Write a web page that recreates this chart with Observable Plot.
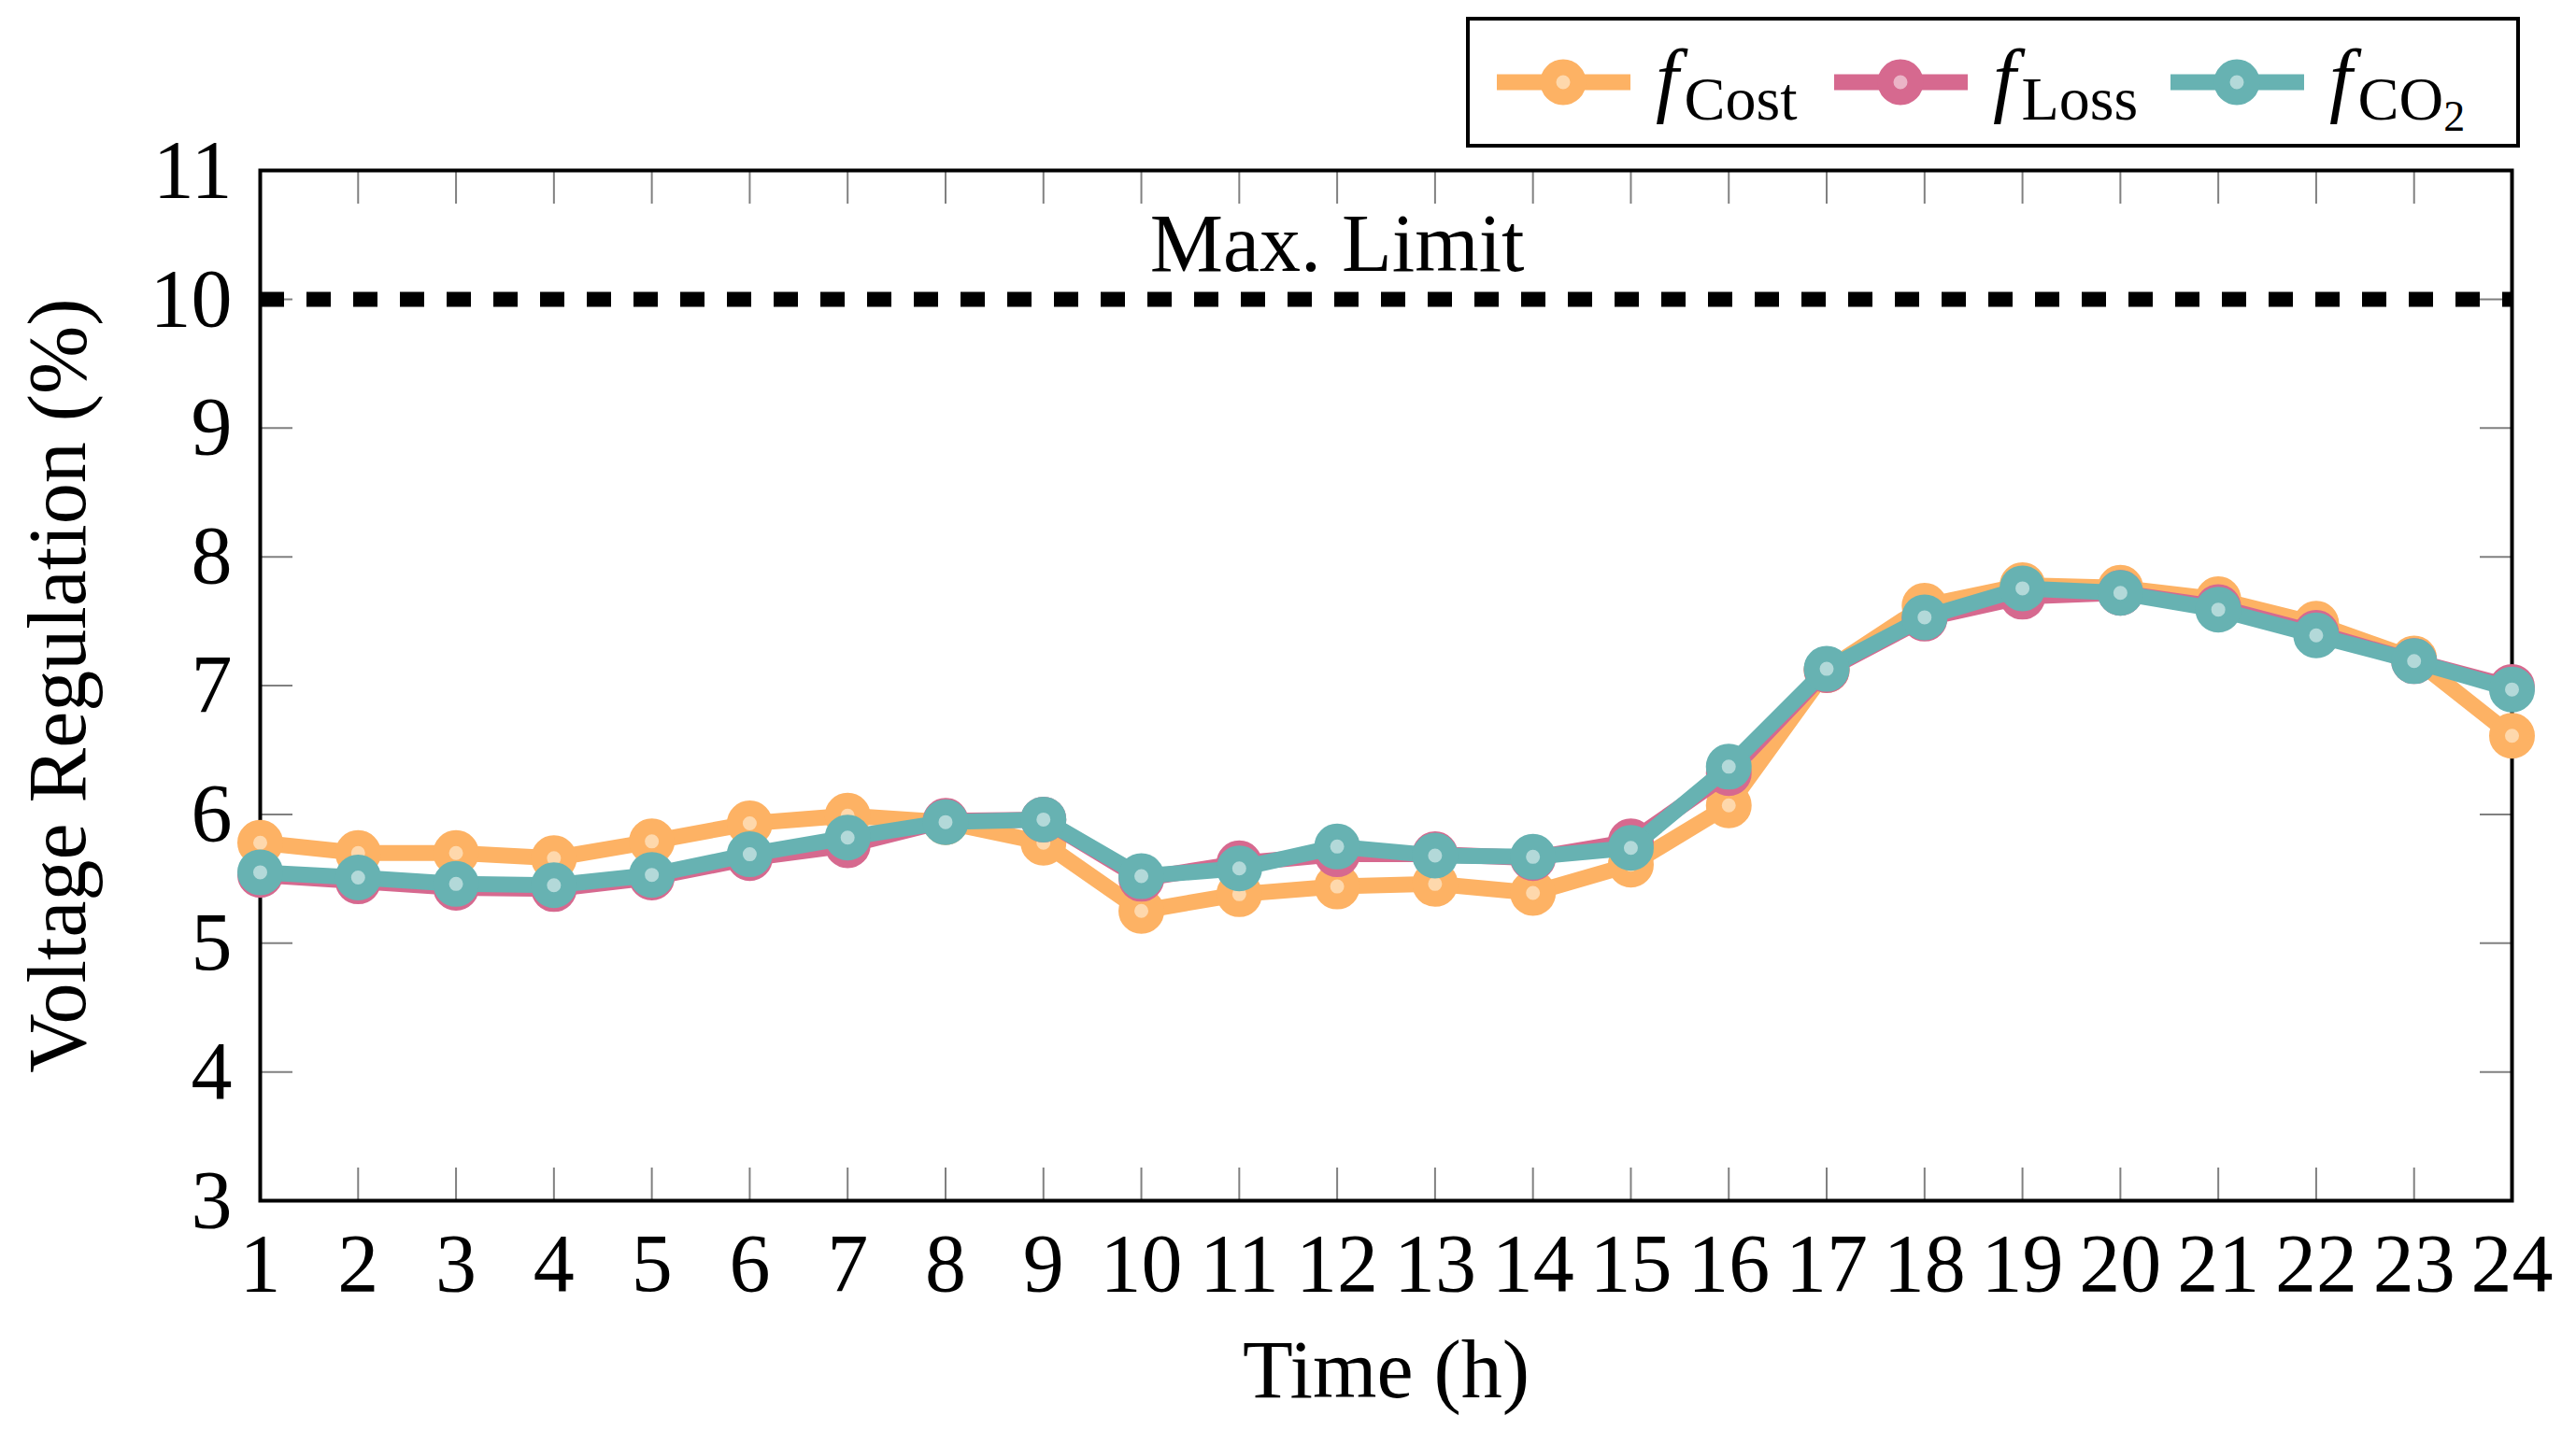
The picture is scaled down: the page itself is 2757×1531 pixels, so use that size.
<!DOCTYPE html>
<html>
<head>
<meta charset="utf-8">
<script src="https://cdn.jsdelivr.net/npm/d3@7"></script>
<script src="https://cdn.jsdelivr.net/npm/@observablehq/plot@0.6"></script>
<style>
  html, body { margin: 0; padding: 0; background: #fff; }
  #wrap { position: relative; width: 2757px; height: 1531px; font-family: "Liberation Serif", serif; }
  #legend { position: absolute; left: 1569px; top: 18px; }
</style>
</head>
<body>
<div id="wrap"><div id="chart"></div><div id="legend"></div></div>
<script>
const hours = d3.range(1, 25);
const costVals = [5.78,5.70,5.70,5.66,5.79,5.93,5.99,5.94,5.78,5.25,5.38,5.44,5.46,5.39,5.61,6.07,7.12,7.62,7.78,7.76,7.67,7.48,7.21,6.61];
const lossVals = [5.53,5.48,5.43,5.42,5.51,5.66,5.76,5.95,5.96,5.50,5.62,5.69,5.69,5.66,5.79,6.32,7.12,7.52,7.69,7.72,7.61,7.41,7.19,6.99];
const co2Vals  = [5.55,5.51,5.46,5.45,5.53,5.69,5.82,5.94,5.96,5.52,5.58,5.75,5.68,5.67,5.74,6.37,7.13,7.53,7.755,7.72,7.59,7.39,7.19,6.97];
const yTicks = [3,4,5,6,7,8,9,10,11];
const maxLimit = 10;
const limitLabel = "Max. Limit";

const series = [
  {key: "cost", sub: "Cost", vals: costVals, color: "#FDB264", light: "#FED8AC"},
  {key: "loss", sub: "Loss", vals: lossVals, color: "#D6698F", light: "#EBB4C7"},
  {key: "co2",  sub: "CO",   vals: co2Vals,  color: "#67B2B2", light: "#B3D9D9"}
];

const FS = 88;
const font = "Liberation Serif";
const tickStyle = {stroke: "#808080", strokeWidth: 2, fill: "none", label: null, tickSize: -35};

const dataMarks = series.flatMap(s => {
  const data = hours.map((h, i) => ({h, v: s.vals[i]}));
  return [
    Plot.line(data, {x: "h", y: "v", stroke: s.color, strokeWidth: 17, strokeLinejoin: "round"}),
    Plot.dot(data, {x: "h", y: "v", r: 16, fill: s.light, stroke: s.color, strokeWidth: 17})
  ];
});

const chart = Plot.plot({
  width: 2757,
  height: 1531,
  marginLeft: 278,
  marginRight: 69,
  marginTop: 182,
  marginBottom: 246,
  style: {fontFamily: font, fontSize: FS + "px", background: "#fff", color: "#000"},
  x: {domain: [1, 24]},
  y: {domain: [3, 11]},
  marks: [
    Plot.axisY(yTicks, {anchor: "left", ...tickStyle}),
    Plot.axisY(yTicks, {anchor: "right", ...tickStyle}),
    Plot.axisX(hours, {anchor: "bottom", ...tickStyle}),
    Plot.axisX(hours, {anchor: "top", ...tickStyle}),
    Plot.axisY(yTicks, {anchor: "left", tickSize: 0, tickPadding: 30, fontSize: FS, fill: "#000", label: null, tickFormat: d => String(d)}),
    Plot.axisX(hours, {anchor: "bottom", tickSize: 0, tickPadding: 34, fontSize: FS, fill: "#000", label: null, tickFormat: d => String(d)}),
    Plot.frame({stroke: "#000", strokeWidth: 4}),
    Plot.ruleY([maxLimit], {stroke: "#000", strokeWidth: 16, strokeDasharray: "26,24"}),
    Plot.text([limitLabel], {x: 12, y: maxLimit, text: d => d, fontSize: FS, lineAnchor: "bottom", dy: -30, fill: "#000"}),
    Plot.text(["Time (h)"], {frameAnchor: "bottom", dy: 182, text: d => d, fontSize: FS, textAnchor: "middle", lineAnchor: "middle", fill: "#000"}),
    Plot.text(["Voltage Regulation (%)"], {frameAnchor: "left", dx: -216, rotate: -90, text: d => d, fontSize: FS, textAnchor: "middle", lineAnchor: "middle", fill: "#000"}),
    ...dataMarks
  ]
});
document.getElementById("chart").appendChild(chart);

// Legend
const legendW = 1128, legendH = 140;
const ls = d3.create("svg").attr("width", legendW).attr("height", legendH)
  .style("font-family", font).style("overflow", "visible");
ls.append("rect").attr("x", 2).attr("y", 2).attr("width", legendW - 4).attr("height", legendH - 4)
  .attr("fill", "#fff").attr("stroke", "#000").attr("stroke-width", 4);
const itemX = [33, 394, 754];
series.forEach((s, i) => {
  const x0 = itemX[i];
  const cy = 70;
  ls.append("line").attr("x1", x0).attr("x2", x0 + 143).attr("y1", cy).attr("y2", cy)
    .attr("stroke", s.color).attr("stroke-width", 17);
  ls.append("circle").attr("cx", x0 + 71).attr("cy", cy).attr("r", 16)
    .attr("fill", s.light).attr("stroke", s.color).attr("stroke-width", 17);
  const t = ls.append("text").attr("x", x0 + 170).attr("y", 96).attr("fill", "#000");
  t.append("tspan").attr("font-style", "italic").attr("font-size", FS).text("f");
  t.append("tspan").attr("font-size", 66).attr("dy", 14).attr("dx", 6).text(s.sub);
  if (s.key === "co2") {
    t.append("tspan").attr("font-size", 46).attr("dy", 12).text("2");
  }
});
document.getElementById("legend").appendChild(ls.node());
</script>
</body>
</html>
